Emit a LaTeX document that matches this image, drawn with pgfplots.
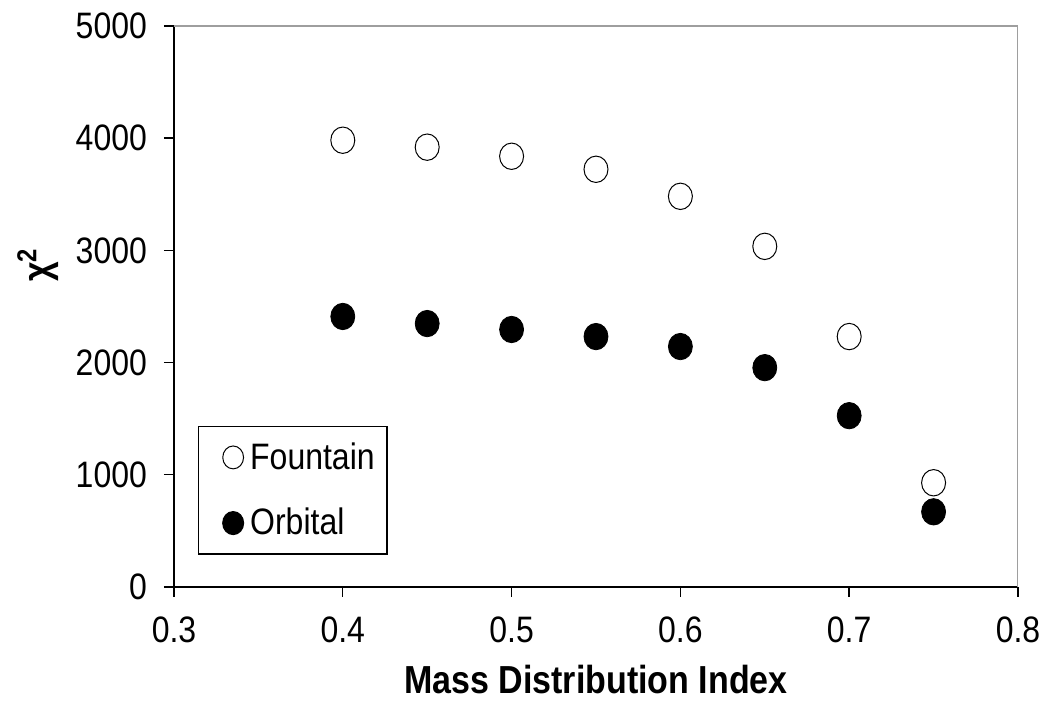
\documentclass[border=0pt]{standalone}
\usepackage{pgfplots}
\pgfplotsset{compat=1.18}
\usepackage{fontspec}
\setmainfont{Liberation Sans}
\newcommand{\ys}[1]{\scalebox{1}[1.15]{#1}}
\begin{document}
\begin{tikzpicture}
\useasboundingbox (-87pt,-58.5pt) rectangle (436pt,293.5pt);
\begin{axis}[
  at={(0,0)}, anchor=south west,
  scale only axis, width=422pt, height=280.5pt,
  xmin=0.3, xmax=0.8, ymin=0, ymax=5000,
  xtick={0.3,0.4,0.5,0.6,0.7,0.8},
  ytick={0,1000,2000,3000,4000,5000},
  axis x line*=bottom, axis y line*=left,
  axis line style={black, line width=0.7pt, -},
  tick align=outside, major tick length=5pt,
  tick style={black, line width=0.7pt},
  scaled y ticks=false,
  /pgf/number format/1000 sep={},
  /pgf/number format/assume math mode=true,
  xticklabel={\ys{\pgfmathprintnumber{\tick}}},
  yticklabel={\ys{\pgfmathprintnumber{\tick}}},
  tick label style={font=\fontsize{16}{18}\selectfont},
  yticklabel style={xshift=-5pt},
  xticklabel style={yshift=-6.5pt},
  xlabel={\ys{\bfseries Mass Distribution Index}},
  xlabel style={font=\fontsize{17}{19}\selectfont, at={(axis description cs:0.5,-0.126)}, anchor=north},
  ylabel={\ys{\bfseries χ\textsuperscript{2}}},
  ylabel style={font=\fontsize{17}{19}\selectfont, at={(axis description cs:-0.161,0.574)}, anchor=center},
  legend style={at={(axis description cs:0.0284,0.287)}, anchor=north west, draw=black, line width=0.6pt,
    font=\fontsize{16}{18}\selectfont, row sep=14pt, inner xsep=4.2pt, inner ysep=6pt},
  legend cell align=left,
  legend image code/.code={\draw[#1, mark size=5.2pt] plot coordinates {(0pt,0pt)}; \path (-12.8pt,0pt) (6.2pt,0pt);},
]
\draw[black!38, line width=0.7pt] (rel axis cs:0,1) -- (rel axis cs:1,1) -- (rel axis cs:1,0);
\addplot[only marks, mark=*, mark size=6pt, mark options={fill=white, draw=black, line width=0.5pt, yscale=1.1}]
  coordinates {(0.4,3982) (0.45,3920) (0.5,3839) (0.55,3723) (0.6,3482) (0.65,3036) (0.7,2232) (0.75,929)};
\addlegendentry{\ys{Fountain}}
\addplot[only marks, mark=*, mark size=6pt, mark options={fill=black, draw=black, yscale=1.1}]
  coordinates {(0.4,2411) (0.45,2348) (0.5,2295) (0.55,2232) (0.6,2143) (0.65,1955) (0.7,1527) (0.75,670)};
\addlegendentry{\ys{Orbital}}
\end{axis}
\end{tikzpicture}
\end{document}
